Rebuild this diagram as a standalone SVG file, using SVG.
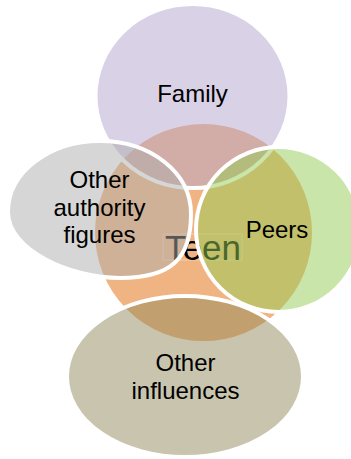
<svg xmlns="http://www.w3.org/2000/svg" width="351" height="459" viewBox="0 0 351 459">
<style>
.shape{stroke:#ffffff;stroke-width:4;fill-opacity:0.5}
.lbl{font-family:"Liberation Sans",Arial,sans-serif;font-size:24px;fill:#000000;text-anchor:middle}
.big{font-family:"Liberation Sans",Arial,sans-serif;font-size:35px;fill:#000000;text-anchor:middle}
</style>
<rect x="0" y="0" width="351" height="459" fill="#ffffff"/>
<g id="teen">
<circle cx="203.5" cy="232.5" r="111" fill="#f0b482" stroke="#ffffff" stroke-width="5"/>
<rect x="163" y="234" width="79" height="26" fill="none" stroke="#ffffff" stroke-opacity="0.35" stroke-width="1"/>
<text class="big" x="203" y="260">Teen</text>
</g>
<g id="family">
<ellipse class="shape" cx="192.5" cy="96" rx="97" ry="92" fill="#b3a3cb"/>
<text class="lbl" x="192.5" y="102">Family</text>
</g>
<g id="peers">
<circle class="shape" cx="278.5" cy="229.5" r="82.5" fill="#93cb53"/>
<text class="lbl" x="277" y="237.5">Peers</text>
</g>
<g id="other-influences">
<ellipse class="shape" cx="185" cy="376.5" rx="118" ry="80.5" fill="#93895b"/>
<text class="lbl" x="185.5" y="371">Other</text>
<text class="lbl" x="185.5" y="399">influences</text>
</g>
<g id="other-authority">
<path class="shape" fill="#adadad" d="M8,212 C8,172 50,141 100,141 C150,141 191,172 191,214 C191,258 172,278 120,278 C70,278 8,250 8,212 Z"/>
<text class="lbl" x="99.5" y="188">Other</text>
<text class="lbl" x="99.5" y="215.5">authority</text>
<text class="lbl" x="99.5" y="243">figures</text>
</g>
<g id="connectors"></g>
</svg>
